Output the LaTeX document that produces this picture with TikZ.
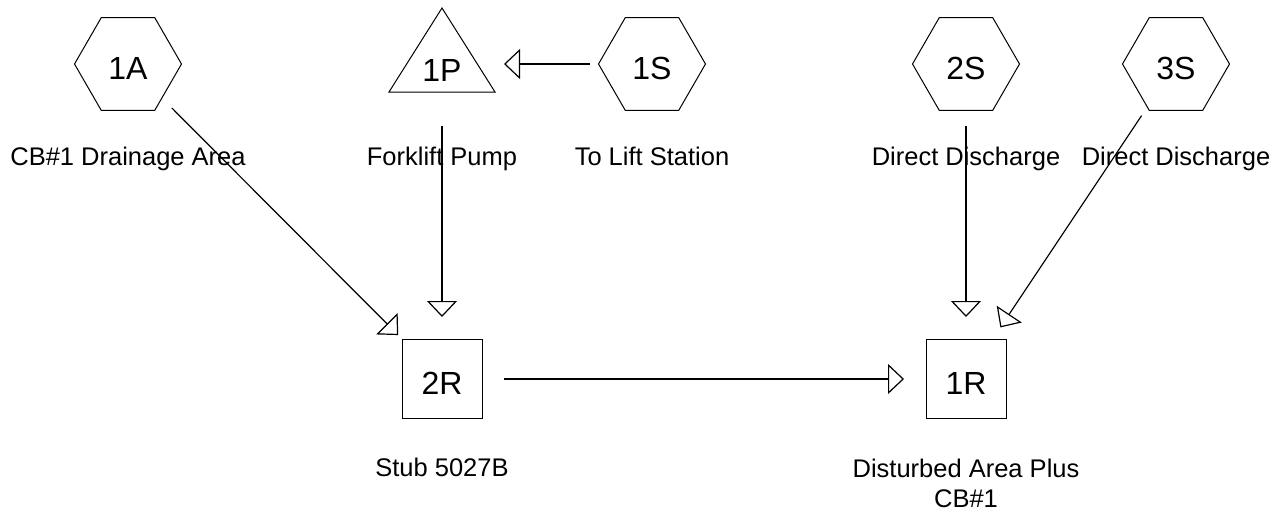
\documentclass[tikz,border=0pt]{standalone}
\usepackage{fontspec}
\setmainfont{Liberation Sans}
\usetikzlibrary{arrows.meta,shapes.geometric}
\begin{document}
\begin{tikzpicture}[x=1pt,y=-1pt,
  nodefont/.style={font=\fontsize{32}{38}\selectfont, text height=31pt, text depth=0pt},
  hexnode/.style={draw, line width=1pt, regular polygon, regular polygon sides=6,
    minimum size=107pt, inner sep=0pt, nodefont},
  boxnode/.style={draw, line width=1pt, minimum width=80pt, minimum height=79pt,
    inner sep=0pt, nodefont},
  pondnode/.style={inner sep=0pt, font=\fontsize{32}{38}\selectfont, text height=35pt, text depth=0pt},
  flow/.style={line width=1.2pt, -{Triangle[open,length=16pt,width=30pt,line width=1.2pt]},
    shorten <=62pt, shorten >=62pt},
  lbl/.style={font=\fontsize{25.5}{30}\selectfont, anchor=base, align=center, inner sep=0pt}
]
\useasboundingbox (0,0) rectangle (1286,515);

% nodes
\node[hexnode] (n1A) at (128,64) {1A};
\node[pondnode] (n1P) at (442,64) {1P};
\draw[line width=1pt] ([shift={(0,-56)}]n1P.center) -- ([shift={(-53,28)}]n1P.center)
  -- ([shift={(53,28)}]n1P.center) -- cycle;
\node[hexnode] (n1S) at (652,64) {1S};
\node[hexnode] (n2S) at (966,64) {2S};
\node[hexnode] (n3S) at (1176,64) {3S};
\node[boxnode] (n2R) at (442,379) {2R};
\node[boxnode] (n1R) at (966,379) {1R};

% labels
\node[lbl] (l1A) at (128,165) {CB\#1 Drainage Area};
\node[lbl] (l1P) at (442,165) {Forklift Pump};
\node[lbl] (l1S) at (652,165) {To Lift Station};
\node[lbl] (l2S) at (966,165) {Direct Discharge};
\node[lbl] (l3S) at (1176,165) {Direct Discharge};
\node[lbl] (l2R) at (442,476) {Stub 5027B};
\node[lbl] (l1R) at (966,507) {Disturbed Area Plus\\CB\#1};

% connectors
\draw[flow] (n1S.center) -- (n1P.center);
\draw[flow] (n1A.center) -- (n2R.center);
\draw[flow] (n1P.center) -- (n2R.center);
\draw[flow] (n2R.center) -- (n1R.center);
\draw[flow] (n2S.center) -- (n1R.center);
\draw[flow] (n3S.center) -- (n1R.center);
\end{tikzpicture}
\end{document}
